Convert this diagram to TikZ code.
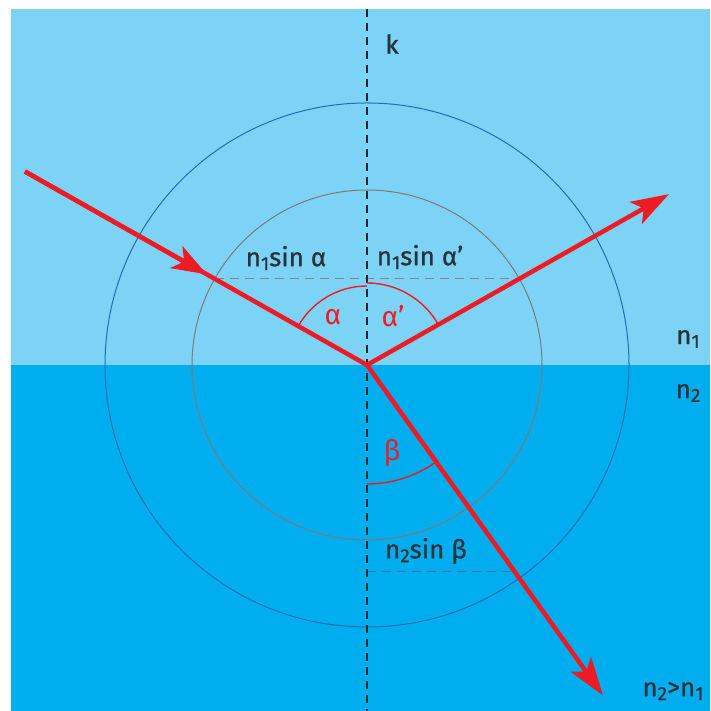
\documentclass[tikz,border=0pt]{standalone}
\usepackage{fontspec}
\setmainfont{Fira Sans}
\newfontfamily\lblfont[FakeBold=0.8]{Fira Sans}
\newcommand\sbx[1]{\raisebox{-0.28ex}{\fontsize{19}{19}\selectfont #1}}
\usetikzlibrary{arrows.meta,calc}
\definecolor{topbg}{HTML}{7DD3F5}
\definecolor{botbg}{HTML}{00AEEF}
\definecolor{rayred}{HTML}{ED1C24}
\definecolor{outerc}{HTML}{1F6DB5}
\definecolor{innerc}{HTML}{7A7A7A}
\definecolor{txt}{HTML}{26333A}
\definecolor{dashgray}{HTML}{7E878E}
\definecolor{dashblue}{HTML}{3D72AE}
\tikzset{
  ray/.style={rayred,line width=4.5pt},
  tipend/.style={-{Stealth[length=38pt,width=25pt,inset=9pt]}},
  anglearc/.style={rayred,line width=1.4pt},
  lbl/.style={text=txt,font=\lblfont\fontsize{26}{28}\selectfont,inner sep=0pt},
  anglbl/.style={text=rayred,font=\fontsize{28}{30}\selectfont,inner sep=0pt},
  axisline/.style={black!85,line width=1.5pt,dash pattern=on 8pt off 6pt},
  helpdash/.style={line width=1pt,dash pattern=on 9pt off 6pt}
}
\begin{document}
\begin{tikzpicture}[x=1pt,y=1pt]
\useasboundingbox (0,0) rectangle (710,711);
% backgrounds
\fill[topbg] (11,346) rectangle (710,702);
\fill[botbg] (11,0) rectangle (710,346);
\coordinate (O) at (367,346);
% circles
\draw[outerc,line width=1pt] (O) circle[radius=262];
\draw[innerc,line width=1pt] (O) circle[radius=175];
% helper points
\coordinate (A1) at ($(O)+(150.5:175)$);
\coordinate (R1) at ($(O)+(29.5:175)$);
\coordinate (B2) at ($(O)+(-54.46:254.3)$);
\coordinate (B2ax) at (O |- B2);
\coordinate (S) at ($(O)+(150.5:393)$);
\coordinate (Mid) at ($(O)+(150.5:184)$);
\coordinate (RT) at ($(O)+(29.5:347)$);
\coordinate (BT) at ($(O)+(-54.46:406)$);
\coordinate (KT) at (367,702);
\coordinate (KB) at (367,0);
% dashed helper lines
\draw[helpdash,dashgray] (A1) -- (R1);
\draw[helpdash,dashblue] (B2ax) -- (B2);
% axis
\draw[axisline] (KT) -- (KB);
% angle arcs
\draw[anglearc] ($(O)+(90:79)$) arc[start angle=90,end angle=150.5,radius=79];
\draw[anglearc] ($(O)+(29.5:82)$) arc[start angle=29.5,end angle=90,radius=82];
\draw[anglearc] ($(O)+(-90:119)$) arc[start angle=-90,end angle=-54.46,radius=119];
% rays
\draw[ray] (S) -- (O);
\draw[ray,-{Stealth[length=35pt,width=25pt,inset=9pt]}] (S) -- (Mid);
\draw[ray,tipend] (O) -- (RT);
\draw[ray,tipend] (O) -- (BT);
% labels
\node[lbl] (k) at (392,667) {k};
\node[lbl] (l1) at (286,453) {n\sbx{1}sin α};
\node[lbl] (l2) at (420,454) {n\sbx{1}sin α’};
\node[lbl] (l3) at (426,160) {n\sbx{2}sin β};
\node[lbl] (n1) at (688,372) {n\sbx{1}};
\node[lbl] (n2) at (688,318) {n\sbx{2}};
\node[lbl] (nn) at (673,20) {n\sbx{2}>n\sbx{1}};
\node[anglbl] (aa) at (333,394) {α};
\node[anglbl] (ab) at (393,395) {α’};
\node[anglbl] (bb) at (392,258) {β};
\end{tikzpicture}
\end{document}
